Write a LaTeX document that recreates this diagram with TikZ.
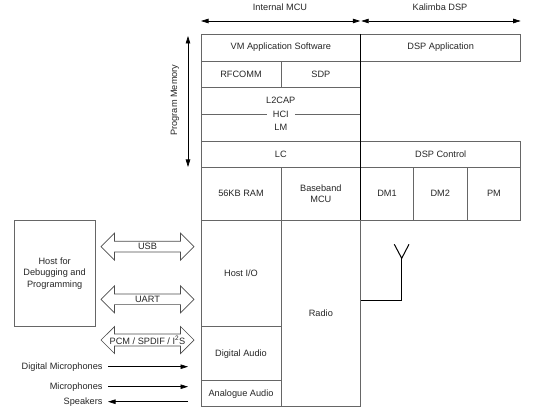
\documentclass[tikz,border=0pt]{standalone}
\usepackage{fontspec}
\setmainfont{Liberation Sans}
\usetikzlibrary{shapes.arrows,arrows.meta}
\newcommand\mybox[7][]{\node[box,#1,minimum width={#5-#3},minimum height={#6-#4}] (#2) at ({(#3+#5)/2},{(#4+#6)/2}) {#7};}
\begin{document}
\begin{tikzpicture}[x=1pt,y=-1pt,
  font=\fontsize{9.2}{11.3}\selectfont,
  box/.style={draw=black!60, line width=0.7pt, text=black!85, align=center, inner sep=0pt, outer sep=0pt},
  lbl/.style={text=black!85, inner sep=0pt},
  tip/.style={-{Triangle[length=7.5pt,width=4.5pt]}, line width=0.7pt},
  dtip/.style={{Triangle[length=7.5pt,width=4.5pt]}-{Triangle[length=7.5pt,width=4.5pt]}, line width=0.7pt},
  dbl/.style={double arrow, draw=black!70, line width=0.7pt, minimum height=93pt, minimum width=27pt, double arrow head extend=7pt, double arrow head indent=0pt, inner sep=1pt, text=black!85},
  antline/.style={line width=1pt, black}]
\useasboundingbox (0,0) rectangle (540,414);

% top header arrows
\node[lbl] (mcu) at (280,7) {Internal MCU};
\node[lbl] (kal) at (440,7) {Kalimba DSP};
\coordinate (mcuL) at (201,21);
\coordinate (mcuR) at (360.3,21);
\coordinate (dspL) at (361.2,21);
\coordinate (dspR) at (520.7,21);
\draw[dtip] (mcuL) -- (mcuR);
\draw[dtip] (dspL) -- (dspR);

% program memory
\coordinate (pmT) at (188,36);
\coordinate (pmB) at (188,167);
\draw[dtip] (pmT) -- (pmB);
\node[lbl, rotate=90] (pmem) at (175,100) {Program Memory};

% stack
\mybox{vm}{201}{34}{360.7}{61}{VM Application Software}
\mybox{dspapp}{360.7}{34}{520.7}{61}{DSP Application}
\mybox{rfcomm}{201}{61}{281}{87.7}{RFCOMM}
\mybox{sdp}{281}{61}{360.7}{87.7}{SDP}
\mybox{l2box}{201}{87.7}{360.7}{141}{}
\node[lbl] (l2cap) at (280.8,100.5) {L2CAP};
\node[lbl, inner xsep=6pt] (hci) at (280.8,114.3) {HCI};
\node[lbl] (lm) at (280.8,127.5) {LM};
\draw[draw=black!60, line width=0.7pt] (l2box.west |- hci) -- (hci.west) (hci.east) -- (l2box.east |- hci);
\mybox{lc}{201}{141}{360.7}{167.3}{LC}
\mybox{dspctl}{360.7}{141}{520.7}{167.3}{DSP Control}
\mybox{ram}{201}{167.3}{281}{220}{56KB RAM}
\mybox{bb}{281}{167.3}{360.7}{220}{Baseband\\MCU}
\mybox{dm1}{360.7}{167.3}{413.3}{220}{DM1}
\mybox{dm2}{413.3}{167.3}{467.3}{220}{DM2}
\mybox{pm}{467.3}{167.3}{520.7}{220}{PM}
\mybox{hostio}{201}{220}{281}{326.7}{Host I/O}
\mybox{daudio}{201}{326.7}{281}{380.7}{Digital Audio}
\mybox{aaudio}{201}{380.7}{281}{406.7}{Analogue Audio}
\mybox{radio}{281}{220}{360.7}{406.7}{Radio}
\draw[black, line width=0.8pt] (vm.north east) -- (bb.south east);

% antenna
\coordinate (ant1) at (401.7,300);
\coordinate (ant2) at (401.7,258.3);
\coordinate (antL) at (394.3,244.3);
\coordinate (antR) at (409,244.3);
\draw[antline] (radio.east |- ant1) -- (ant1) -- (ant2);
\draw[antline] (antL) -- (ant2) -- (antR);

% host
\mybox{host}{14.3}{220}{95}{326.7}{Host for\\Debugging and\\Programming}
\node[dbl] (usb) at (147.5,246.7) {USB};
\node[dbl] (uart) at (147.5,299.3) {UART};
\node[dbl] (pcm) at (147.5,340) {PCM / SPDIF / I\textsuperscript{2}S};

% signals
\node[lbl, anchor=east] (dmic) at (102.7,366.7) {Digital Microphones};
\node[lbl, anchor=east] (mic) at (102.7,386.7) {Microphones};
\node[lbl, anchor=east] (spk) at (102.7,401.7) {Speakers};
\coordinate (dmicA) at (108,366.7);
\coordinate (dmicB) at (188,366.7);
\coordinate (micA) at (108,386.7);
\coordinate (micB) at (188,386.7);
\coordinate (spkA) at (188,401.7);
\coordinate (spkB) at (108,401.7);
\draw[tip] (dmicA) -- (dmicB);
\draw[tip] (micA) -- (micB);
\draw[tip] (spkA) -- (spkB);
\end{tikzpicture}
\end{document}
